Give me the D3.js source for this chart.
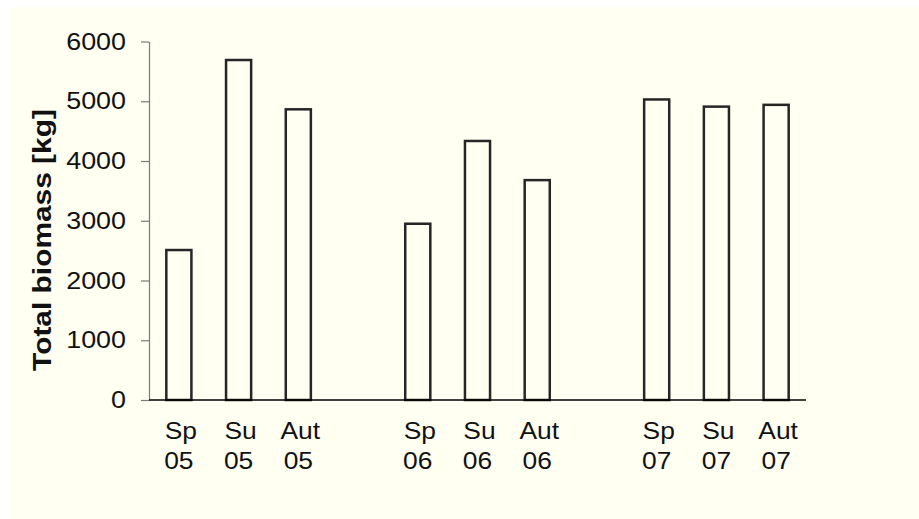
<!DOCTYPE html>
<html>
<head>
<meta charset="utf-8">
<script src="https://cdn.jsdelivr.net/npm/d3@7"></script>
<style>
  html, body { margin: 0; padding: 0; background: #ffffff; }
  svg { display: block; }
</style>
</head>
<body>
<svg id="chart" width="919" height="519"></svg>
<script>
// ---- data ----
const seasons = ["Sp", "Su", "Aut", "Sp", "Su", "Aut", "Sp", "Su", "Aut"];
const years   = ["05", "05", "05", "06", "06", "06", "07", "07", "07"];
const biomass = [2510, 5690, 4865, 2950, 4335, 3680, 5030, 4910, 4940];
const yTicks  = [0, 1000, 2000, 3000, 4000, 5000, 6000];
const yLabel  = "Total biomass [kg]";

// ---- layout ----
const W = 919, H = 519;
const plot = { left: 149, right: 806, top: 41.5, bottom: 400 };
const FONT = "'Liberation Sans', Arial, sans-serif";
const svg = d3.select("#chart");

svg.append("rect")
  .attr("x", 10).attr("y", 7)
  .attr("width", W - 10).attr("height", H - 7)
  .attr("fill", "#fffff2");

// slot positions: three seasons per year, one empty slot between years
const slotOf = i => i + Math.floor(i / 3);
const nSlots = slotOf(biomass.length - 1) + 1;

const x = d3.scaleBand()
  .domain(d3.range(nSlots))
  .range([plot.left, plot.right])
  .paddingInner(0.58)
  .paddingOuter(0.29);

const y = d3.scaleLinear()
  .domain([0, 6000])
  .range([plot.bottom, plot.top]);

// bars
const data = biomass.map((v, i) => ({ v, i, season: seasons[i], year: years[i] }));
svg.append("g").selectAll("rect")
  .data(data)
  .join("rect")
  .attr("x", d => x(slotOf(d.i)))
  .attr("y", d => y(d.v))
  .attr("width", x.bandwidth())
  .attr("height", d => y(0) - y(d.v))
  .attr("fill", "#fffff2")
  .attr("stroke", "#262626")
  .attr("stroke-width", 2.5);

// y axis
const yAxis = d3.axisLeft(y)
  .tickValues(yTicks)
  .tickFormat(d3.format("d"))
  .tickSize(8)
  .tickSizeOuter(0)
  .tickPadding(15);

const gy = svg.append("g")
  .attr("transform", `translate(${plot.left},0)`)
  .call(yAxis);
gy.select(".domain").attr("stroke", "#7a7a7a").attr("stroke-width", 1.2);
gy.selectAll(".tick line").attr("stroke", "#7a7a7a").attr("stroke-width", 1.2);
gy.selectAll(".tick text")
  .attr("font-family", FONT)
  .attr("font-size", 24)
  .attr("fill", "#111")
  .attr("x", null)
  .attr("transform", "translate(-23,0) scale(1.12,1)");

// x axis line
svg.append("line")
  .attr("x1", plot.left).attr("x2", plot.right)
  .attr("y1", y(0)).attr("y2", y(0))
  .attr("stroke", "#000").attr("stroke-width", 1.5);

// x labels (two lines)
const xl = svg.append("g")
  .attr("font-family", FONT)
  .attr("font-size", 24)
  .attr("fill", "#111")
  .attr("text-anchor", "middle");
xl.selectAll("text.s").data(data).join("text")
  .attr("class", "s")
  .attr("transform", d => `translate(${x(slotOf(d.i)) + x.bandwidth() / 2 + 2},439) scale(1.1,1)`)
  .text(d => d.season);
xl.selectAll("text.yr").data(data).join("text")
  .attr("class", "yr")
  .attr("transform", d => `translate(${x(slotOf(d.i)) + x.bandwidth() / 2},469) scale(1.1,1)`)
  .text(d => d.year);

// y label
svg.append("text")
  .attr("transform", `translate(51,${(108 + 372) / 2}) rotate(-90) scale(1.15,1)`)
  .attr("text-anchor", "middle")
  .attr("font-family", FONT)
  .attr("font-weight", "bold")
  .attr("font-size", 26)
  .attr("fill", "#111")
  .text(yLabel);
</script>
</body>
</html>
